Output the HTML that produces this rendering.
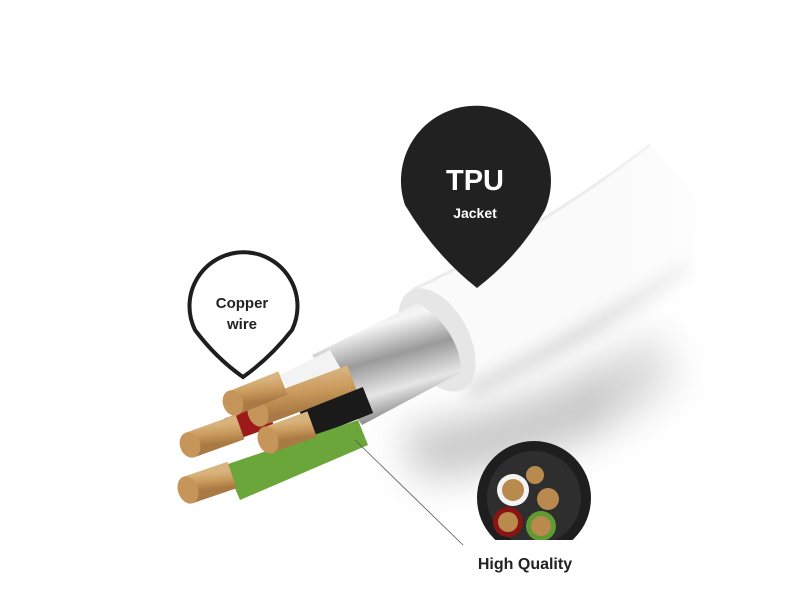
<!DOCTYPE html>
<html><head><meta charset="utf-8"><style>
html,body{margin:0;padding:0;background:#fff;}
svg{display:block;}
text{font-family:"Liberation Sans","DejaVu Sans",sans-serif;font-weight:bold;}
</style></head><body>
<svg width="800" height="600" viewBox="0 0 800 600" xmlns="http://www.w3.org/2000/svg">
<defs>
<filter id="blur" x="-50%" y="-50%" width="200%" height="200%"><feGaussianBlur stdDeviation="20"/></filter>
<filter id="blur2" x="-20%" y="-20%" width="140%" height="140%"><feGaussianBlur stdDeviation="8"/></filter>
<linearGradient id="silver" x1="0" y1="0" x2="0.35" y2="1">
<stop offset="0" stop-color="#d8d8d8"/><stop offset="0.3" stop-color="#f5f5f5"/><stop offset="0.55" stop-color="#9a9a9a"/><stop offset="0.8" stop-color="#e6e6e6"/><stop offset="1" stop-color="#8a8a8a"/></linearGradient>
<linearGradient id="copper" x1="0" y1="0" x2="0.3" y2="1">
<stop offset="0" stop-color="#d9b37e"/><stop offset="0.5" stop-color="#c99a5c"/><stop offset="1" stop-color="#a97a44"/></linearGradient>
<linearGradient id="fade" x1="0" y1="0" x2="1" y2="0">
<stop offset="0" stop-color="#fff" stop-opacity="0"/><stop offset="0.7" stop-color="#fff" stop-opacity="1"/></linearGradient>
<clipPath id="cc"><rect x="470" y="430" width="140" height="110"/></clipPath>
</defs>
<!-- shadow -->
<path d="M400 430 Q540 410 660 330 L690 380 Q580 460 420 480 Z" fill="#b5b5b5" filter="url(#blur)" opacity="0.75"/>
<!-- cable jacket -->
<path d="M412 290 Q540 230 650 145 L700 200 L690 265 Q600 330 468 392 Z" fill="#fafafa"/>
<path d="M468 392 Q600 330 690 265" stroke="#d8d8d8" stroke-width="14" fill="none" filter="url(#blur2)"/>
<path d="M412 290 Q540 230 650 145" stroke="#ececec" stroke-width="3" fill="none"/>
<rect x="590" y="100" width="210" height="380" fill="url(#fade)"/>
<ellipse cx="437" cy="340" rx="32" ry="56" transform="rotate(-28 437 340)" fill="#e6e6e6"/>
<!-- silver shield -->
<path d="M312 355 L418 303 Q458 328 462 372 L362 425 Z" fill="url(#silver)"/>
<!-- white insulation -->
<path d="M280 375 L330 350 L350 385 L300 410 Z" fill="#f3f3f3"/>
<!-- red -->
<line x1="228" y1="430" x2="270" y2="415" stroke="#9c1a1a" stroke-width="24"/>
<!-- wire 3 -->
<line x1="258" y1="413" x2="352" y2="378" stroke="url(#copper)" stroke-width="27"/>
<ellipse cx="258" cy="413" rx="10" ry="14" transform="rotate(-20 258 413)" fill="#c59559"/>
<!-- black -->
<line x1="305" y1="425" x2="368" y2="400" stroke="#1a1a1a" stroke-width="28"/>
<!-- wire 1 -->
<line x1="233" y1="403" x2="283" y2="383" stroke="url(#copper)" stroke-width="25"/>
<ellipse cx="233" cy="403" rx="10" ry="13" transform="rotate(-20 233 403)" fill="#c59559"/>
<!-- wire 2 -->
<line x1="190" y1="445" x2="240" y2="427" stroke="url(#copper)" stroke-width="26"/>
<ellipse cx="190" cy="445" rx="10" ry="13" transform="rotate(-20 190 445)" fill="#c59559"/>
<!-- green -->
<path d="M225 465 L358 420 L368 445 L240 500 Z" fill="#6aa63a"/>
<!-- wire 4 -->
<line x1="268" y1="440" x2="312" y2="424" stroke="url(#copper)" stroke-width="27"/>
<ellipse cx="268" cy="440" rx="10" ry="14" transform="rotate(-20 268 440)" fill="#c59559"/>
<!-- wire 5 -->
<line x1="188" y1="490" x2="232" y2="475" stroke="url(#copper)" stroke-width="28"/>
<ellipse cx="188" cy="490" rx="10" ry="14" transform="rotate(-20 188 490)" fill="#c59559"/>
<!-- leader line -->
<line x1="355" y1="440" x2="463" y2="545" stroke="#555" stroke-width="0.8"/>
<!-- TPU pin -->
<path d="M405 205 A75 75 0 1 1 545 210 Q520 255 477 288 Q435 255 405 205 Z" fill="#212121"/>
<text x="475" y="190" font-size="29" fill="#fff" text-anchor="middle">TPU</text>
<text x="475" y="218" font-size="14" fill="#fff" text-anchor="middle" font-weight="normal">Jacket</text>
<!-- copper pin -->
<path d="M195 330 A54 54 0 1 1 292 330 Q270 358 243 377 Q216 358 195 330 Z" fill="#fff" stroke="#1e1e1e" stroke-width="4"/>
<text x="242" y="308" font-size="15" fill="#222" text-anchor="middle">Copper</text>
<text x="242" y="329" font-size="15" fill="#222" text-anchor="middle">wire</text>
<!-- cross section -->
<g clip-path="url(#cc)">
<circle cx="534" cy="498" r="57" fill="#1e1e1e"/>
<circle cx="534" cy="498" r="47" fill="#2e2e2e"/>
<circle cx="513" cy="490" r="16" fill="#f4f4f4"/>
<circle cx="513" cy="490" r="11" fill="#b98a4e"/>
<circle cx="535" cy="475" r="9" fill="#b98a4e"/>
<circle cx="548" cy="499" r="11" fill="#b98a4e"/>
<circle cx="508" cy="522" r="15" fill="#8a1414"/>
<circle cx="508" cy="522" r="10" fill="#b98a4e"/>
<circle cx="541" cy="526" r="15" fill="#5f9a32"/>
<circle cx="541" cy="526" r="10" fill="#b98a4e"/>
</g>
<text x="525" y="569" font-size="16" fill="#222" text-anchor="middle">High Quality</text>
</svg>
</body></html>
